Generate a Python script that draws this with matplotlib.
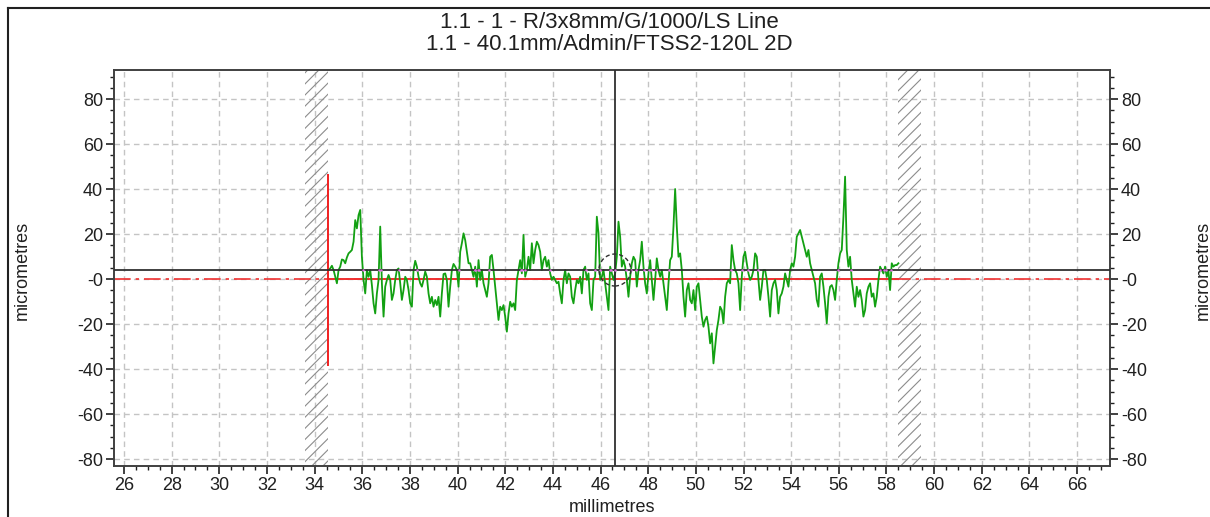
import numpy as np
import matplotlib
matplotlib.use("Agg")
import matplotlib.pyplot as plt
from matplotlib.patches import Ellipse
from matplotlib.lines import Line2D
from matplotlib.ticker import MultipleLocator

plt.rcParams['font.family'] = ['Liberation Sans', 'DejaVu Sans']
plt.rcParams['hatch.linewidth'] = 0.8

title_lines = ["1.1 - 1 - R/3x8mm/G/1000/LS Line", "1.1 - 40.1mm/Admin/FTSS2-120L 2D"]
x_label = "millimetres"
y_label = "micrometres"

x_ticks = list(range(26, 67, 2))
y_ticks = [80, 60, 40, 20, 0, -20, -40, -60, -80]
y_tick_labels = ["80", "60", "40", "20", "-0", "-20", "-40", "-60", "-80"]

# measured profile (micrometres), sampled uniformly between profile_start and profile_end (mm)
profile_start = 34.585
profile_end = 58.50
profile_um = [
    4.0, 4.7, 5.9, 4.0, 1.0, -1.9, 4.0, 5.5, 8.7, 8.4, 7.0, 9.6, 11.4, 12.1, 12.9, 16.6, 26.2, 22.5, 28.4, 30.7,
    9.9, -0.4, -6.4, 4.0, 1.0, 4.0, -2.7, -10.8, -15.3, -6.4, -0.4, 23.3, -1.9, -16.7, -3.4, -0.4, 1.8, -0.4, -9.3, -6.4,
    -0.4, 4.0, 4.7, -1.9, -9.3, -4.9, 1.0, -0.4, -4.9, -10.8, -12.3, 4.0, 8.1, 5.5, 1.0, -1.9, -3.4, -0.4, 3.3, 1.0,
    -6.4, -10.8, -7.9, -12.3, -9.3, -11.6, -7.9, -16.7, -6.4, 2.2, 2.5, -0.4, -12.3, -3.4, 4.0, 6.7, 5.5, 4.0, -3.4, 12.1,
    15.9, 20.3, 17.3, 12.1, 7.0,
    7.0, 4.0, 1.0, 5.5, -3.4, 8.4, -0.4, 4.0, -1.9, -4.9, -7.9, -1.9, 9.9, 10.7, 4.0, -3.4, -10.8, -18.2, -12.3, -13.8,
    -11.6, -16.7, -23.4, -15.3, -10.1, -12.3, -10.8, -13.8, -0.4, 4.0, 8.4, 2.5, 19.6, 1.0, 4.0, 9.9, 4.0, 15.9, 7.0, 12.9,
    16.6, 15.1, 12.1, 4.0, 8.4, 9.9, 5.5, 8.4, 2.5, -0.4, 1.0, -0.4, -1.9, -1.2, -6.4, -10.8, -0.4, 4.0, -1.9, 2.5,
    1.0, -7.9, -10.8, -4.9, -0.4, -1.9, 1.0, -6.4, 4.0, 5.5, -0.4, 2.5, -10.8, -13.8, -0.4, 1.0, 27.7, 20.3, -0.4, 1.0,
    4.0, -1.9, -7.9, -13.8, 5.5,
    2.5, -0.4, 2.5, 9.9, 25.5, 18.8, 5.5, 8.4, 5.5, -0.4, -7.9, 1.0, 7.0, 9.9, 8.4, -3.4, 4.0, 8.4, 16.6, 5.5,
    -1.9, -6.4, 2.5, 8.4, -0.4, -9.3, -0.4, 9.2, 4.0, 1.0, 4.0, -1.9, -7.9, -13.8, -1.9, 8.4, 9.9, 23.3, 40.0, 23.3,
    9.9, 11.4, 4.0, -7.9, -16.7, -4.9, -1.9, -9.3, -10.8, -4.9, -13.8, -3.4, -1.9, -9.3, -16.7, -21.2, -18.2, -16.7, -21.2, -28.6,
    -24.1, -37.5, -30.1, -22.7, -18.2, -12.3, -13.8, -19.7, -7.9, -1.9, -0.4, -1.9, 15.1, 8.4, 4.0, 2.5, -1.9, -13.8, 1.0, 9.9,
    12.1, 7.0, 2.5, -0.4, 1.0, 4.0, 11.4,
    9.9, -0.4, -9.3, -3.4, 4.0, 4.0, -0.4, -7.9, -16.7, -4.9, -1.9, -0.4, -4.9, -15.3, -7.9, -6.4, -3.4, 2.5, -0.4, -3.4,
    4.0, 7.0, 5.5, 9.9, 18.8, 20.3, 21.8, 18.8, 15.9, 12.9, 9.9, 12.9, 7.0, 4.0, 1.0, -1.9, -9.3, -12.3, 1.0, 2.5,
    -3.4, -10.8, -19.7, -7.9, -3.4, -2.7, -4.9, -9.3, -0.4, 7.0, 11.4, 12.9, 27.7, 45.5, 12.9, 5.5, 9.9, -0.4, -6.4, -12.3,
    -3.4, -7.9, -4.9, -9.3, -16.7, -13.8, -6.4, -3.4, -1.9, -7.9, -6.4, -12.3, -7.9, -0.4, 5.5, 4.0, 2.5, 5.5, 1.0, 4.0,
    -4.9, 7.0, 5.5, 6.2, 6.2, 7.0,
]

# reference features
excluded_zones = [(33.6, 34.55), (58.5, 59.45)]
red_marker_x = 34.57
red_marker_range = (-38.0, 46.2)
crosshair_x = 46.6
crosshair_y = 4.0
datum_y = 0.0
xlim = (25.58, 67.38)
ylim = (-83.1, 92.9)

fig = plt.figure(figsize=(12.10, 5.17), dpi=100)
ax = fig.add_axes([114 / 1210, 1 - 466 / 517, (1110 - 114) / 1210, (466 - 70) / 517])
ax.set_xlim(*xlim)
ax.set_ylim(*ylim)

# grid
ax.set_xticks(x_ticks)
ax.set_yticks(y_ticks)
ax.set_yticklabels(y_tick_labels)
ax.xaxis.set_minor_locator(MultipleLocator(0.5))
ax.yaxis.set_minor_locator(MultipleLocator(5))
ax.grid(True, which='major', color='#c4c4c4', linestyle=(0, (4, 3)), linewidth=1.0)
ax.set_axisbelow(True)

# excluded zones
for a, b in excluded_zones:
    ax.axvspan(a, b, facecolor='none', edgecolor='#8c8c8c', hatch='///', linewidth=0, zorder=1)

# datum line (red): dash-dot across, solid over evaluated length
ax.axhline(datum_y, color='#f03030', linewidth=1.2, linestyle=(0, (10, 3, 2, 3)), zorder=2)
ax.plot([red_marker_x, excluded_zones[1][0]], [datum_y, datum_y], color='#f03030', linewidth=1.4, zorder=3)

# profile
xs = np.linspace(profile_start, profile_end, len(profile_um))
ys = np.array(profile_um)
ax.plot(xs, ys, color='#12a012', linewidth=1.3, zorder=4)

# crossings with reference line (small magenta marks)
cx = []
for i in range(len(ys) - 1):
    if (ys[i] - crosshair_y) * (ys[i + 1] - crosshair_y) < 0:
        t = (crosshair_y - ys[i]) / (ys[i + 1] - ys[i])
        cx.append(xs[i] + t * (xs[i + 1] - xs[i]))
ax.scatter(cx, [crosshair_y] * len(cx), s=3, color='#e070e0', zorder=6, linewidths=0)

# red vertical marker
ax.plot([red_marker_x, red_marker_x], red_marker_range, color='#f02020', linewidth=1.4, zorder=5)

# crosshair
ax.axhline(crosshair_y, color='#303030', linewidth=1.3, zorder=5)
ax.axvline(crosshair_x, color='#303030', linewidth=1.3, zorder=5)
ax.add_patch(Ellipse((crosshair_x, crosshair_y), 1.34, 14.2, fill=False, edgecolor='#303030',
                     linestyle=(0, (3, 2)), linewidth=1.0, zorder=6))

# spines / ticks
for s in ax.spines.values():
    s.set_color('#404040')
    s.set_linewidth(1.4)
ax.tick_params(which='major', direction='out', length=6, width=1.2, color='#202020',
               labelsize=13, labelcolor='#202020', left=True, right=True, labelleft=True,
               labelright=True, top=False, pad=2)
ax.tick_params(which='minor', direction='out', length=3, width=1.0, color='#202020',
               left=True, right=True, top=False)

# axis labels
fig.text(22 / 1210, 1 - 270 / 517, y_label, rotation=90, ha='center', va='center', fontsize=13, color='#202020')
fig.text(1203 / 1210, 1 - 270 / 517, y_label, rotation=90, ha='center', va='center', fontsize=13, color='#202020')
fig.text(612 / 1210, 1 - 507 / 517, x_label, ha='center', va='center', fontsize=13, color='#202020')

# title
fig.text(609 / 1210, 1 - 22 / 517, title_lines[0], ha='center', va='center', fontsize=16, color='#202020')
fig.text(609 / 1210, 1 - 45 / 517, title_lines[1], ha='center', va='center', fontsize=16, color='#202020')

# frame border
fig.add_artist(Line2D([8 / 1210, 8 / 1210], [0, 1 - 8 / 517], transform=fig.transFigure, color='#202020', linewidth=1.5))
fig.add_artist(Line2D([8 / 1210, 1], [1 - 8 / 517, 1 - 8 / 517], transform=fig.transFigure, color='#202020', linewidth=1.5))

fig.savefig("out.png", dpi=100)
